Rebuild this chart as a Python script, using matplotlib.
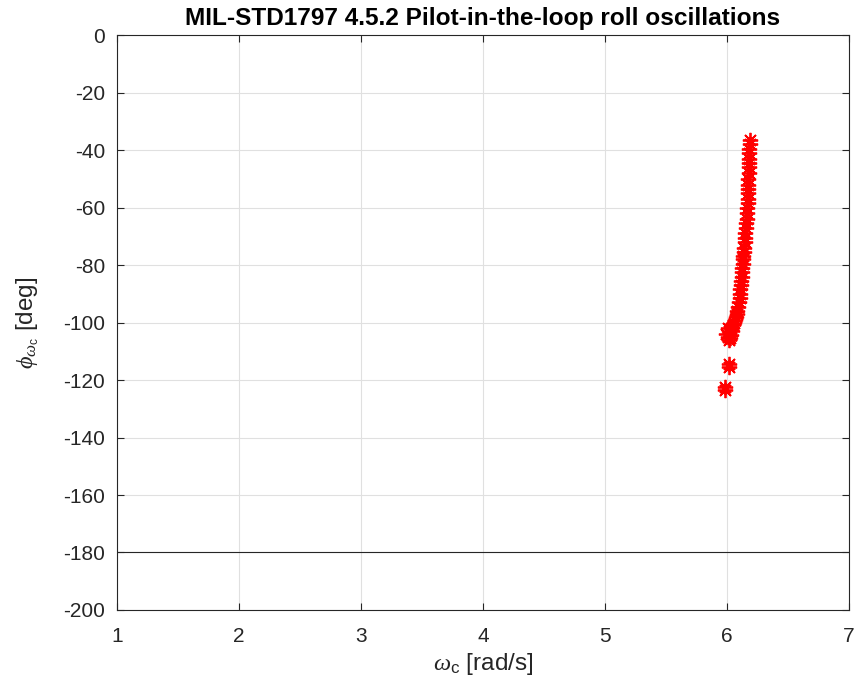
import matplotlib
matplotlib.use("Agg")
import matplotlib.pyplot as plt

plt.rcParams['font.family'] = ['Liberation Sans', 'DejaVu Sans']
plt.rcParams['axes.unicode_minus'] = False
plt.rcParams['mathtext.fontset'] = 'custom'
plt.rcParams['mathtext.it'] = 'Liberation Serif:italic'
plt.rcParams['mathtext.rm'] = 'Liberation Sans'

# Data
wc = [6.185, 6.185, 6.183, 6.182, 6.180, 6.180, 6.178, 6.177, 6.176, 6.175,
      6.174, 6.172, 6.170, 6.168, 6.166, 6.163, 6.160, 6.157, 6.154, 6.150,
      6.147, 6.144, 6.141, 6.138, 6.134, 6.131, 6.128, 6.125, 6.122, 6.119,
      6.116, 6.113, 6.110, 6.107, 6.103, 6.098, 6.092, 6.085, 6.078, 6.070,
      6.062, 6.055, 6.045, 6.035, 6.020, 6.005, 5.995, 6.010, 6.030, 6.040,
      6.015, 6.025, 6.020, 6.018, 5.980, 5.985]
phi = [-36.5, -38.0, -39.5, -41.0, -43.0, -44.5, -46.0, -48.0, -50.0, -52.0,
       -53.5, -55.0, -57.0, -58.5, -60.0, -62.0, -64.0, -65.5, -67.0, -69.0,
       -70.5, -72.0, -74.0, -75.5, -77.0, -78.0, -79.5, -81.0, -82.5, -84.0,
       -85.5, -87.0, -88.5, -90.0, -91.5, -93.0, -94.5, -96.0, -97.0, -98.0,
       -99.0, -100.0, -101.0, -102.0, -103.0, -102.0, -104.0, -105.0, -104.5, -103.0,
       -106.0, -105.5, -114.5, -115.5, -122.5, -123.5]

xticks = [1, 2, 3, 4, 5, 6, 7]
yticks = [0, -20, -40, -60, -80, -100, -120, -140, -160, -180, -200]
limit_phi = -180

fig = plt.figure(figsize=(8.57, 6.88), dpi=100)
ax = fig.add_axes([0.1365, 0.1134, 0.8542, 0.8356])

axc = '#262626'
ax.plot(wc, phi, linestyle='none', marker=(8, 2, 0), color='red',
        markersize=11, markeredgewidth=1.3)
ax.axhline(limit_phi, color=axc, linewidth=0.8)

ax.set_xlim(1, 7)
ax.set_ylim(-200, 0)
ax.set_xticks(xticks)
ax.set_yticks(yticks)
ax.grid(True, color='#e0e0e0', linewidth=0.8)
ax.set_axisbelow(True)
ax.tick_params(direction='in', top=True, right=True, labelsize=15,
               colors=axc, length=5, width=0.8)
ax.tick_params(axis='x', pad=12)
ax.tick_params(axis='y', pad=8.5)
for s in ax.spines.values():
    s.set_color(axc)
    s.set_linewidth(0.8)

ax.set_title('MIL-STD1797 4.5.2 Pilot-in-the-loop roll oscillations',
             fontsize=17.6, fontweight='bold', color='black', pad=7)
ax.set_xlabel(r'$\omega_{\mathrm{c}}$ [rad/s]', fontsize=17.5, color=axc, labelpad=4)
ax.set_ylabel(r'$\phi_{\omega_{\mathrm{c}}}$ [deg]', fontsize=17.5, color=axc, labelpad=16)

fig.savefig('out.png', dpi=100)
